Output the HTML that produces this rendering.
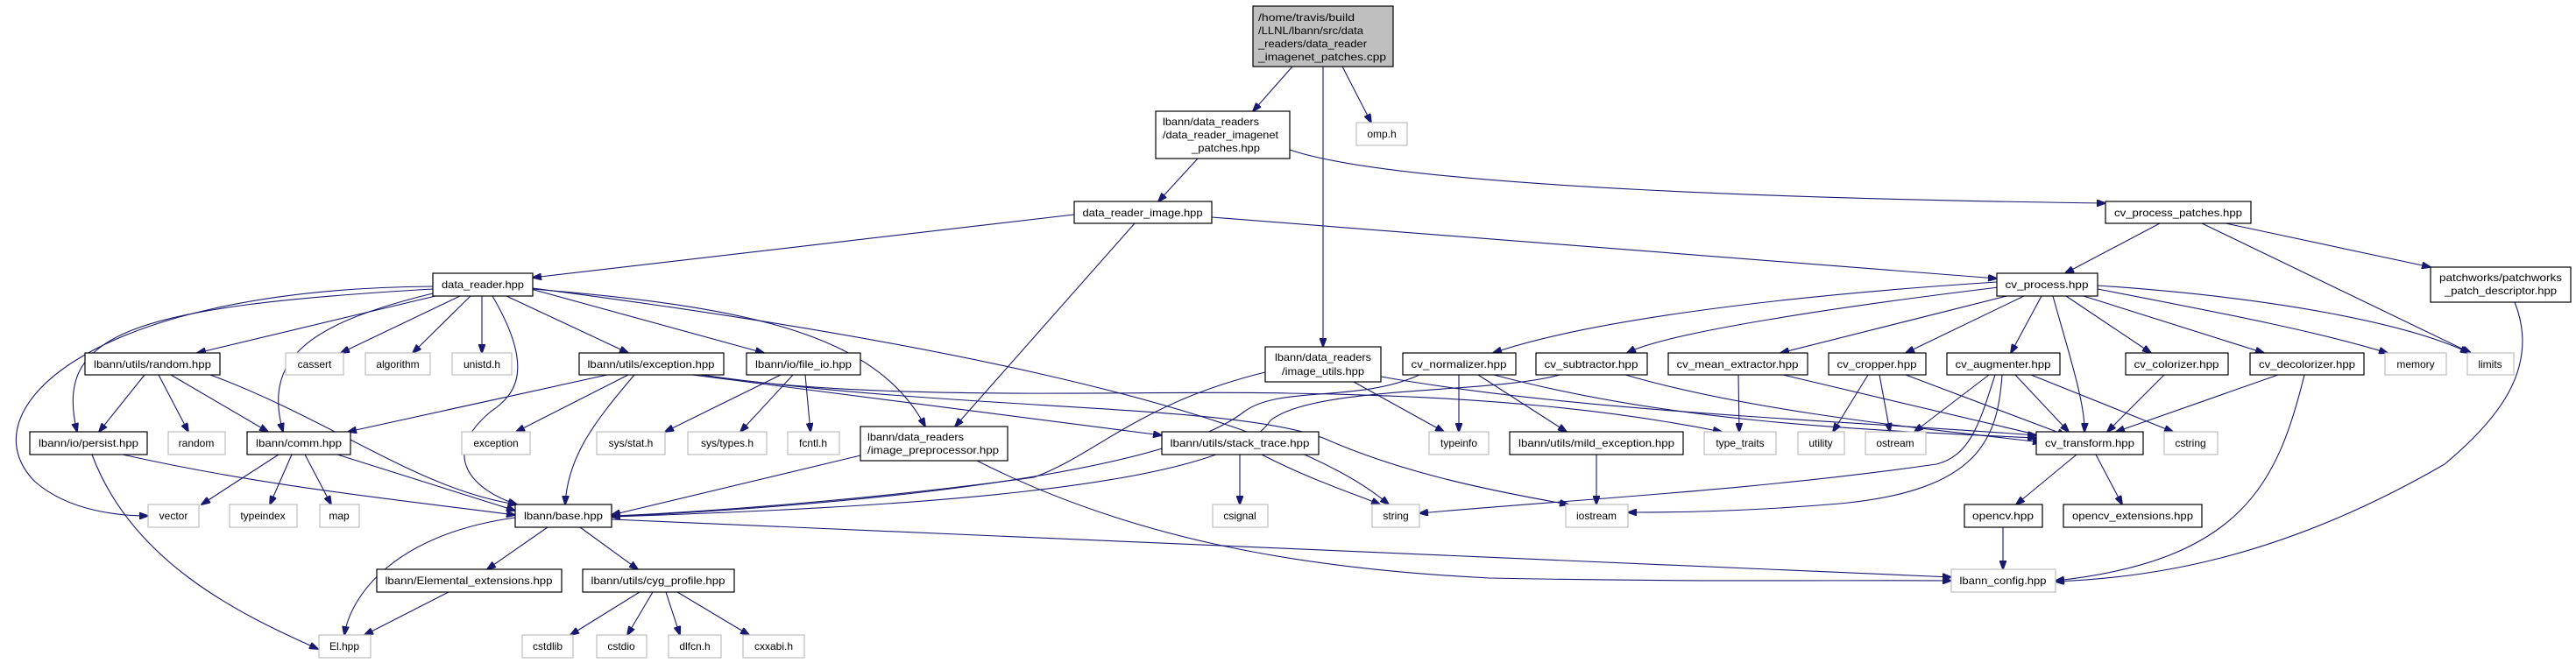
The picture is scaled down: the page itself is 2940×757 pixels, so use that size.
<!DOCTYPE html>
<html><head><meta charset="utf-8"><style>
html,body{margin:0;padding:0;background:#fff;}
svg{display:block;}
text{font-family:"Liberation Sans",sans-serif;font-size:12px;fill:#000;}
.n{fill:#fff;stroke:#000;stroke-width:1.2;}
.e{fill:#fff;stroke:#bfbfbf;stroke-width:1.2;}
path.l{fill:none;stroke:#191970;stroke-width:1.1;marker-end:url(#a);}
</style></head><body>
<svg width="2940" height="757" viewBox="0 0 2940 757" xmlns="http://www.w3.org/2000/svg">
<defs><marker id="a" markerWidth="11" markerHeight="8" refX="10" refY="4" orient="auto" markerUnits="userSpaceOnUse"><path d="M0,0 L11,4 L0,8 z" fill="#191970" stroke="#191970"/></marker></defs>
<g>
<path class="l" d="M1475,76 L1430,127"/>
<path class="l" d="M1532,76 L1565,140"/>
<path class="l" d="M1510,76 L1510,396"/>
<path class="l" d="M1367,181 L1322,230"/>
<path class="l" d="M1472,171 C1600,215 2100,228 2403,232"/>
<path class="l" d="M1226,245 L608,317"/>
<path class="l" d="M1295,255 L1090,487"/>
<path class="l" d="M1383,248 L2279,318"/>
<path class="l" d="M497,338 L225,403"/>
<path class="l" d="M494,330 C150,350 60,380 88,493"/>
<path class="l" d="M494,327 C100,330 -40,470 40,550 C80,585 140,589 169,589"/>
<path class="l" d="M494,335 C350,370 300,410 323,493"/>
<path class="l" d="M525,338 L389,403"/>
<path class="l" d="M537,338 L471,403"/>
<path class="l" d="M550,338 L550,403"/>
<path class="l" d="M562,338 C610,420 590,450 560,470 C500,520 540,560 590,576"/>
<path class="l" d="M578,338 L717,403"/>
<path class="l" d="M606,330 L872,403"/>
<path class="l" d="M608,330 C850,350 1000,380 1056,487"/>
<path class="l" d="M608,329 C1000,380 1450,460 1585,576"/>
<path class="l" d="M165,428 L113,493"/>
<path class="l" d="M181,428 L215,493"/>
<path class="l" d="M195,428 L306,493"/>
<path class="l" d="M240,428 C380,480 480,560 590,576"/>
<path class="l" d="M693,428 L397,493"/>
<path class="l" d="M717,428 L589,493"/>
<path class="l" d="M724,428 C680,480 648,520 645,576"/>
<path class="l" d="M790,428 L1326,497"/>
<path class="l" d="M800,428 C1000,460 1300,445 1470,449 C1700,452 1850,470 1965,493"/>
<path class="l" d="M800,428 C1100,470 1400,460 1510,500 C1600,540 1700,560 1790,576"/>
<path class="l" d="M891,428 L759,493"/>
<path class="l" d="M905,428 L845,493"/>
<path class="l" d="M919,428 L925,493"/>
<path class="l" d="M982,520 L698,588"/>
<path class="l" d="M1115,526 C1300,620 1500,650 1700,660 C1950,665 2100,662 2227,663"/>
<path class="l" d="M698,593 L2227,659"/>
<path class="l" d="M1415,519 L1415,576"/>
<path class="l" d="M1440,519 C1500,550 1550,565 1575,576"/>
<path class="l" d="M140,519 C300,555 450,570 588,588"/>
<path class="l" d="M105,519 C150,640 270,700 363,741"/>
<path class="l" d="M318,519 L230,576"/>
<path class="l" d="M333,519 L308,576"/>
<path class="l" d="M348,519 L378,576"/>
<path class="l" d="M385,519 L588,583"/>
<path class="l" d="M588,591 C450,610 400,680 393,725"/>
<path class="l" d="M625,602 L556,650"/>
<path class="l" d="M662,602 L728,650"/>
<path class="l" d="M512,676 L416,725"/>
<path class="l" d="M730,676 L651,725"/>
<path class="l" d="M745,676 L716,725"/>
<path class="l" d="M760,676 L776,725"/>
<path class="l" d="M773,676 L855,725"/>
<path class="l" d="M1444,425 C1300,460 1250,520 1180,545 C1000,570 800,585 698,589"/>
<path class="l" d="M1545,436 L1648,493"/>
<path class="l" d="M1576,430 C1800,470 2100,480 2324,497"/>
<path class="l" d="M1620,428 C1550,460 1460,440 1420,470 C1330,540 1000,575 698,590"/>
<path class="l" d="M1665,428 L1665,493"/>
<path class="l" d="M1687,428 L1788,493"/>
<path class="l" d="M1705,428 C1900,480 2100,490 2324,500"/>
<path class="l" d="M1780,428 C1700,450 1500,440 1450,480 C1400,560 1000,580 698,590"/>
<path class="l" d="M1855,428 C2000,470 2200,490 2330,505"/>
<path class="l" d="M1984,428 L1985,493"/>
<path class="l" d="M2035,428 L2340,500"/>
<path class="l" d="M2132,428 L2092,493"/>
<path class="l" d="M2145,428 L2157,493"/>
<path class="l" d="M2175,428 L2358,497"/>
<path class="l" d="M2270,428 L2185,493"/>
<path class="l" d="M2277,428 C2260,480 2250,520 2210,530 C2000,560 1800,570 1620,586"/>
<path class="l" d="M2285,428 C2280,500 2260,560 2100,575 C1980,585 1900,585 1858,585"/>
<path class="l" d="M2300,428 L2361,493"/>
<path class="l" d="M2318,428 L2480,493"/>
<path class="l" d="M2470,428 L2405,493"/>
<path class="l" d="M2600,428 L2415,493"/>
<path class="l" d="M2630,428 C2600,550 2560,640 2346,663"/>
<path class="l" d="M2279,322 C2000,340 1800,370 1704,403"/>
<path class="l" d="M2281,328 C2100,350 1900,380 1857,403"/>
<path class="l" d="M2290,338 L2032,403"/>
<path class="l" d="M2310,338 L2175,403"/>
<path class="l" d="M2330,338 L2295,403"/>
<path class="l" d="M2343,338 C2360,400 2380,460 2379,493"/>
<path class="l" d="M2358,338 L2455,403"/>
<path class="l" d="M2378,338 L2584,403"/>
<path class="l" d="M2394,330 C2550,360 2650,380 2725,403"/>
<path class="l" d="M2394,326 C2600,340 2750,370 2818,403"/>
<path class="l" d="M2465,255 L2357,312"/>
<path class="l" d="M2513,255 L2820,403"/>
<path class="l" d="M2540,255 L2774,305"/>
<path class="l" d="M2870,345 C2900,420 2850,480 2790,530 C2600,640 2450,660 2346,664"/>
<path class="l" d="M2370,519 L2301,576"/>
<path class="l" d="M2392,519 L2422,576"/>
<path class="l" d="M2286,602 L2286,650"/>
<path class="l" d="M1822,519 L1822,576"/>
</g>
<g>
<rect x="1430" y="7" width="160" height="69" fill="#bfbfbf" stroke="#000" stroke-width="1.2"/>
<text x="1436" y="24" textLength="110" lengthAdjust="spacingAndGlyphs">/home/travis/build</text>
<text x="1436" y="39" textLength="120" lengthAdjust="spacingAndGlyphs">/LLNL/lbann/src/data</text>
<text x="1436" y="54" textLength="124" lengthAdjust="spacingAndGlyphs">_readers/data_reader</text>
<text x="1436" y="69" textLength="146" lengthAdjust="spacingAndGlyphs">_imagenet_patches.cpp</text>

<rect class="n" x="1319" y="127" width="153" height="54"/>
<text x="1327" y="143" textLength="110" lengthAdjust="spacingAndGlyphs">lbann/data_readers</text>
<text x="1327" y="158" textLength="132" lengthAdjust="spacingAndGlyphs">/data_reader_imagenet</text>
<text x="1360" y="173" textLength="78" lengthAdjust="spacingAndGlyphs">_patches.hpp</text>

<rect class="e" x="1548" y="140" width="58" height="26"/><text x="1577" y="157" text-anchor="middle">omp.h</text>
<rect class="n" x="1226" y="230" width="157" height="25"/><text x="1304" y="247" text-anchor="middle" textLength="137" lengthAdjust="spacingAndGlyphs">data_reader_image.hpp</text>
<rect class="n" x="2403" y="230" width="166" height="25"/><text x="2486" y="247" text-anchor="middle" textLength="146" lengthAdjust="spacingAndGlyphs">cv_process_patches.hpp</text>
<rect class="n" x="494" y="312" width="114" height="26"/><text x="551" y="329" text-anchor="middle" textLength="94" lengthAdjust="spacingAndGlyphs">data_reader.hpp</text>
<rect class="n" x="2279" y="312" width="115" height="26"/><text x="2336" y="329" text-anchor="middle" textLength="95" lengthAdjust="spacingAndGlyphs">cv_process.hpp</text>
<rect class="n" x="2774" y="305" width="160" height="40"/>
<text x="2854" y="321" text-anchor="middle" textLength="140" lengthAdjust="spacingAndGlyphs">patchworks/patchworks</text>
<text x="2854" y="336" text-anchor="middle" textLength="128" lengthAdjust="spacingAndGlyphs">_patch_descriptor.hpp</text>

<rect class="n" x="97" y="403" width="154" height="25"/><text x="174" y="420" text-anchor="middle" textLength="134" lengthAdjust="spacingAndGlyphs">lbann/utils/random.hpp</text>
<rect class="e" x="326" y="403" width="66" height="25"/><text x="359" y="420" text-anchor="middle">cassert</text>
<rect class="e" x="417" y="403" width="74" height="25"/><text x="454" y="420" text-anchor="middle">algorithm</text>
<rect class="e" x="516" y="403" width="68" height="25"/><text x="550" y="420" text-anchor="middle">unistd.h</text>
<rect class="n" x="661" y="403" width="165" height="25"/><text x="743" y="420" text-anchor="middle" textLength="145" lengthAdjust="spacingAndGlyphs">lbann/utils/exception.hpp</text>
<rect class="n" x="852" y="403" width="130" height="25"/><text x="917" y="420" text-anchor="middle" textLength="110" lengthAdjust="spacingAndGlyphs">lbann/io/file_io.hpp</text>
<rect class="n" x="1444" y="396" width="132" height="40"/>
<text x="1510" y="412" text-anchor="middle" textLength="110" lengthAdjust="spacingAndGlyphs">lbann/data_readers</text>
<text x="1510" y="428" text-anchor="middle" textLength="94" lengthAdjust="spacingAndGlyphs">/image_utils.hpp</text>
<rect class="n" x="1601" y="403" width="129" height="25"/><text x="1665" y="420" text-anchor="middle" textLength="109" lengthAdjust="spacingAndGlyphs">cv_normalizer.hpp</text>
<rect class="n" x="1753" y="403" width="127" height="25"/><text x="1816" y="420" text-anchor="middle" textLength="107" lengthAdjust="spacingAndGlyphs">cv_subtractor.hpp</text>
<rect class="n" x="1904" y="403" width="159" height="25"/><text x="1983" y="420" text-anchor="middle" textLength="139" lengthAdjust="spacingAndGlyphs">cv_mean_extractor.hpp</text>
<rect class="n" x="2087" y="403" width="111" height="25"/><text x="2142" y="420" text-anchor="middle" textLength="91" lengthAdjust="spacingAndGlyphs">cv_cropper.hpp</text>
<rect class="n" x="2222" y="403" width="129" height="25"/><text x="2286" y="420" text-anchor="middle" textLength="109" lengthAdjust="spacingAndGlyphs">cv_augmenter.hpp</text>
<rect class="n" x="2426" y="403" width="117" height="25"/><text x="2484" y="420" text-anchor="middle" textLength="97" lengthAdjust="spacingAndGlyphs">cv_colorizer.hpp</text>
<rect class="n" x="2568" y="403" width="130" height="25"/><text x="2633" y="420" text-anchor="middle" textLength="110" lengthAdjust="spacingAndGlyphs">cv_decolorizer.hpp</text>
<rect class="e" x="2722" y="403" width="70" height="25"/><text x="2757" y="420" text-anchor="middle">memory</text>
<rect class="e" x="2816" y="403" width="53" height="25"/><text x="2842" y="420" text-anchor="middle">limits</text>

<rect class="n" x="34" y="493" width="134" height="26"/><text x="101" y="510" text-anchor="middle" textLength="114" lengthAdjust="spacingAndGlyphs">lbann/io/persist.hpp</text>
<rect class="e" x="192" y="493" width="65" height="26"/><text x="224" y="510" text-anchor="middle">random</text>
<rect class="n" x="282" y="493" width="118" height="26"/><text x="341" y="510" text-anchor="middle" textLength="98" lengthAdjust="spacingAndGlyphs">lbann/comm.hpp</text>
<rect class="e" x="527" y="493" width="78" height="26"/><text x="566" y="510" text-anchor="middle">exception</text>
<rect class="e" x="681" y="493" width="78" height="26"/><text x="720" y="510" text-anchor="middle">sys/stat.h</text>
<rect class="e" x="785" y="493" width="90" height="26"/><text x="830" y="510" text-anchor="middle">sys/types.h</text>
<rect class="e" x="899" y="493" width="59" height="26"/><text x="928" y="510" text-anchor="middle">fcntl.h</text>
<rect class="n" x="982" y="487" width="168" height="39"/>
<text x="990" y="503" textLength="110" lengthAdjust="spacingAndGlyphs">lbann/data_readers</text>
<text x="990" y="518" textLength="150" lengthAdjust="spacingAndGlyphs">/image_preprocessor.hpp</text>
<rect class="n" x="1326" y="493" width="179" height="26"/><text x="1415" y="510" text-anchor="middle" textLength="159" lengthAdjust="spacingAndGlyphs">lbann/utils/stack_trace.hpp</text>
<rect class="e" x="1631" y="493" width="68" height="26"/><text x="1665" y="510" text-anchor="middle">typeinfo</text>
<rect class="n" x="1723" y="493" width="198" height="26"/><text x="1822" y="510" text-anchor="middle" textLength="178" lengthAdjust="spacingAndGlyphs">lbann/utils/mild_exception.hpp</text>
<rect class="e" x="1945" y="493" width="82" height="26"/><text x="1986" y="510" text-anchor="middle">type_traits</text>
<rect class="e" x="2052" y="493" width="53" height="26"/><text x="2078" y="510" text-anchor="middle">utility</text>
<rect class="e" x="2129" y="493" width="69" height="26"/><text x="2163" y="510" text-anchor="middle">ostream</text>
<rect class="n" x="2324" y="493" width="122" height="26"/><text x="2385" y="510" text-anchor="middle" textLength="102" lengthAdjust="spacingAndGlyphs">cv_transform.hpp</text>
<rect class="e" x="2470" y="493" width="61" height="26"/><text x="2500" y="510" text-anchor="middle">cstring</text>

<rect class="e" x="169" y="576" width="58" height="26"/><text x="198" y="593" text-anchor="middle">vector</text>
<rect class="e" x="262" y="576" width="77" height="26"/><text x="300" y="593" text-anchor="middle">typeindex</text>
<rect class="e" x="365" y="576" width="45" height="26"/><text x="387" y="593" text-anchor="middle">map</text>
<rect class="n" x="588" y="576" width="110" height="26"/><text x="643" y="593" text-anchor="middle" textLength="90" lengthAdjust="spacingAndGlyphs">lbann/base.hpp</text>
<rect class="e" x="1384" y="576" width="63" height="26"/><text x="1415" y="593" text-anchor="middle">csignal</text>
<rect class="e" x="1566" y="576" width="54" height="26"/><text x="1593" y="593" text-anchor="middle">string</text>
<rect class="e" x="1787" y="576" width="71" height="26"/><text x="1822" y="593" text-anchor="middle">iostream</text>
<rect class="n" x="2242" y="576" width="89" height="26"/><text x="2286" y="593" text-anchor="middle" textLength="70" lengthAdjust="spacingAndGlyphs">opencv.hpp</text>
<rect class="n" x="2355" y="576" width="158" height="26"/><text x="2434" y="593" text-anchor="middle" textLength="138" lengthAdjust="spacingAndGlyphs">opencv_extensions.hpp</text>

<rect class="n" x="430" y="650" width="211" height="26"/><text x="535" y="667" text-anchor="middle" textLength="191" lengthAdjust="spacingAndGlyphs">lbann/Elemental_extensions.hpp</text>
<rect class="n" x="665" y="650" width="173" height="26"/><text x="751" y="667" text-anchor="middle" textLength="153" lengthAdjust="spacingAndGlyphs">lbann/utils/cyg_profile.hpp</text>
<rect class="e" x="2227" y="650" width="119" height="26"/><text x="2286" y="667" text-anchor="middle" textLength="99" lengthAdjust="spacingAndGlyphs">lbann_config.hpp</text>

<rect class="e" x="364" y="725" width="59" height="26"/><text x="393" y="742" text-anchor="middle">El.hpp</text>
<rect class="e" x="596" y="725" width="58" height="26"/><text x="625" y="742" text-anchor="middle">cstdlib</text>
<rect class="e" x="681" y="725" width="57" height="26"/><text x="709" y="742" text-anchor="middle">cstdio</text>
<rect class="e" x="763" y="725" width="60" height="26"/><text x="793" y="742" text-anchor="middle">dlfcn.h</text>
<rect class="e" x="848" y="725" width="70" height="26"/><text x="883" y="742" text-anchor="middle">cxxabi.h</text>
</g>
</svg>
</body></html>
